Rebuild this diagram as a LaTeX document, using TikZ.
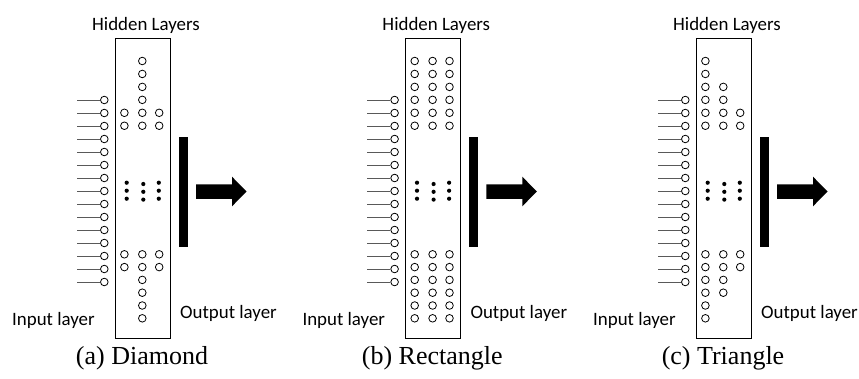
\documentclass[tikz,border=0pt]{standalone}
\usepackage{fontspec}
\setmainfont{Liberation Serif}
\newfontfamily\labelfont{Carlito}
% panel macro: #1 offset, #2 name, #3 caption, #4 top col1, #5 top col2, #6 top col3, #7 bottom col1, #8 bottom col2, #9 bottom col3
\newcommand\drawpanel[9]{%
\begin{scope}[xshift=#1]
  \node[hbox,minimum width=55pt,minimum height=300pt] (#2box) at (115,38) {};
  \node[lbl] (#2hid) at (146,25) {Hidden Layers};
  \node[lbl,anchor=west] (#2inl) at (12,320) {Input layer};
  \node[lbl,anchor=west] (#2outl) at (180,313) {Output layer};
  \node[captext] (#2cap) at (142,358) {#3};
  \foreach \i in {0,...,14}{
    \node[neuron] (#2in\i) at (104.3,{100+13*\i}) {};
    \coordinate (#2s\i) at (77,{100+13*\i});
    \draw[inline] (#2s\i) -- (#2in\i.west);
  }
  \foreach \k in {#4}{\node[neuron] (#2ta\k) at (124.4,{61+12.95*\k}) {};}
  \foreach \k in {#5}{\node[neuron] (#2tb\k) at (142.3,{61+12.95*\k}) {};}
  \foreach \k in {#6}{\node[neuron] (#2tc\k) at (159.2,{61+12.95*\k}) {};}
  \foreach \k in {#7}{\node[neuron] (#2ba\k) at (124.4,{254.3+12.8*\k}) {};}
  \foreach \k in {#8}{\node[neuron] (#2bb\k) at (142.3,{254.3+12.8*\k}) {};}
  \foreach \k in {#9}{\node[neuron] (#2bc\k) at (159.2,{254.3+12.8*\k}) {};}
  \foreach \k in {0,1,2}{
    \node[dotnode] (#2da\k) at (126.7,{182.7+8*\k}) {};
    \node[dotnode] (#2db\k) at (143.3,{184+7.8*\k}) {};
    \node[dotnode] (#2dc\k) at (158.8,{182.7+8*\k}) {};
  }
  \node[barnode] (#2bar) at (178.3,136.7) {};
  \fill (196,184.3) -- (232,184.3) -- (232,176.7) -- (246.5,191.5) -- (232,206.3) -- (232,198.8) -- (196,198.8) -- cycle;
\end{scope}}
\begin{document}
\begin{tikzpicture}[x=1pt,y=-1pt,
  neuron/.style={circle,draw,line width=0.8pt,minimum size=7.6pt,inner sep=0pt},
  dotnode/.style={circle,fill,minimum size=4.2pt,inner sep=0pt},
  hbox/.style={draw,line width=0.8pt,anchor=north west,inner sep=0pt},
  inline/.style={draw,black!65,line width=0.8pt},
  lbl/.style={font=\labelfont\fontsize{18.9}{20}\selectfont,inner sep=0pt},
  captext/.style={font=\fontsize{26}{28}\selectfont,inner sep=0pt},
  barnode/.style={fill,inner sep=0pt,anchor=north west,minimum width=9pt,minimum height=110pt}]
\useasboundingbox (0,0) rectangle (859,378);
\drawpanel{0}{a}{(a) Diamond}{4,5}{0,...,5}{4,5}{0,1}{0,...,5}{0,1}
\drawpanel{290.3}{b}{(b) Rectangle}{0,...,5}{0,...,5}{0,...,5}{0,...,5}{0,...,5}{0,...,5}
\drawpanel{581}{c}{(c) Triangle}{0,...,5}{2,...,5}{4,5}{0,...,5}{0,...,3}{0,1}
\end{tikzpicture}
\end{document}
